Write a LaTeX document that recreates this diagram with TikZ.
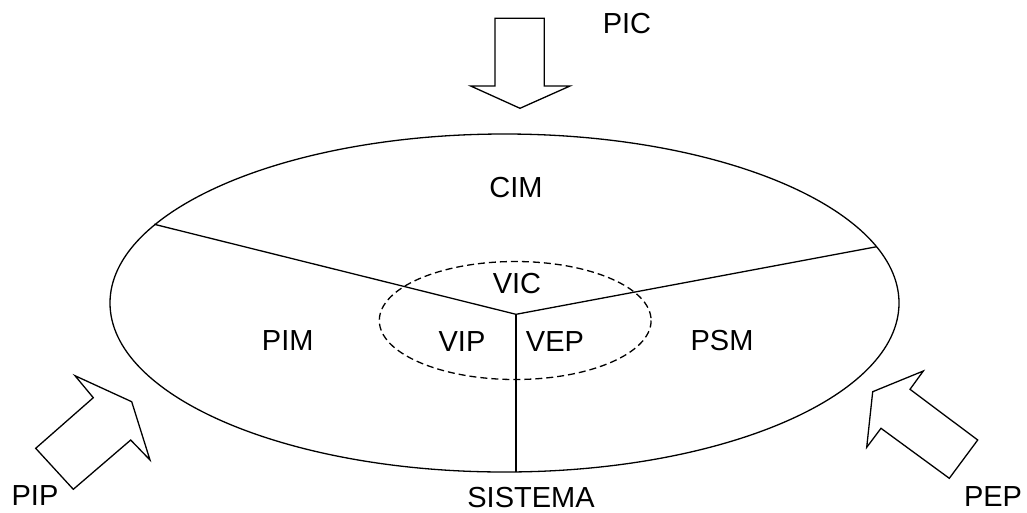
\documentclass[tikz,border=0pt]{standalone}
\usepackage{fontspec}
\setmainfont{Liberation Sans}
\begin{document}
\begin{tikzpicture}[x=1pt,y=-1pt,
  line width=1.3pt,
  lbl/.style={anchor=base,inner sep=0pt,text depth=0pt,font=\fontsize{29}{32}\selectfont},
  blockarrow/.style={draw,line join=miter,fill=white},
  viewline/.style={draw,dash pattern=on 7pt off 4pt}]
\useasboundingbox (0,0) rectangle (1027,512);

% outer system ellipse
\draw (504.5,303) ellipse [x radius=394.5, y radius=169];
% inner viewpoint ellipse
\draw[viewline] (515.2,320.5) ellipse [x radius=135.9, y radius=59];

% dividing lines
\coordinate (hub) at (516,314.3);
\coordinate (wl) at (154.3,224.3);
\coordinate (wr) at (876.7,246.7);
\coordinate (wb) at (516,471.9);
\draw (wl) -- (hub) -- (wr);
\draw (hub) -- (wb);

% block arrows
\draw[blockarrow] (495,18.3) -- (544.3,18.3) -- (544.3,86) -- (570,86)
  -- (520,108.3) -- (470.7,86) -- (495,86) -- cycle;
\draw[blockarrow] (35.7,448.3) -- (93.3,397.7) -- (75,375.7) -- (131.7,401.7)
  -- (150,460) -- (130.7,440) -- (73.3,489.3) -- cycle;
\draw[blockarrow] (872.7,391.7) -- (923.3,371) -- (910,389.3) -- (977.7,440)
  -- (949.3,478.3) -- (881,428.3) -- (866.7,447.3) -- cycle;

% labels
\node[lbl] (pic) at (627,33.5) {PIC};
\node[lbl] (cim) at (516,197.5) {CIM};
\node[lbl] (vic) at (517,293.8) {VIC};
\node[lbl] (pim) at (287.7,350.5) {PIM};
\node[lbl] (vip) at (462,351) {VIP};
\node[lbl] (vep) at (555,351) {VEP};
\node[lbl] (psm) at (722,350.5) {PSM};
\node[lbl] (sis) at (531,507.5) {SISTEMA};
\node[lbl] (pip) at (35,505.5) {PIP};
\node[lbl] (pep) at (993,506.5) {PEP};
\end{tikzpicture}
\end{document}
